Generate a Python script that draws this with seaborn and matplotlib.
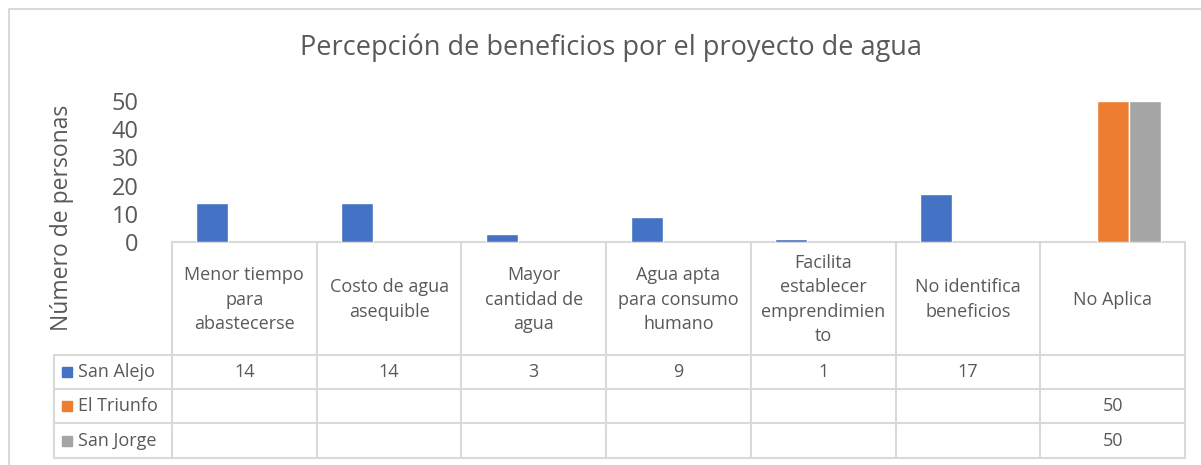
import numpy as np
import pandas as pd
import matplotlib
matplotlib.use("Agg")
import matplotlib.pyplot as plt
import seaborn as sns

# data
categorias = ["Menor tiempo\npara\nabastecerse", "Costo de agua\nasequible",
              "Mayor\ncantidad de\nagua", "Agua apta\npara consumo\nhumano",
              "Facilita\nestablecer\nemprendimien\nto", "No identifica\nbeneficios",
              "No Aplica"]
series = ["San Alejo", "El Triunfo", "San Jorge"]
san_alejo = [14, 14, 3, 9, 1, 17, np.nan]
el_triunfo = [np.nan, np.nan, np.nan, np.nan, np.nan, np.nan, 50]
san_jorge = [np.nan, np.nan, np.nan, np.nan, np.nan, np.nan, 50]
colores = ["#4472C4", "#ED7D31", "#A5A5A5"]

valores = [san_alejo, el_triunfo, san_jorge]
df = pd.DataFrame({
    "cat": categorias * 3,
    "serie": [s for s in series for _ in categorias],
    "n": san_alejo + el_triunfo + san_jorge,
})

sns.set_style("white")
plt.rcParams["font.family"] = ["Open Sans", "DejaVu Sans"]
gris_txt = "#595959"
gris_lin = "#D9D9D9"

W, H = 1201, 465
fig = plt.figure(figsize=(W / 100, H / 100), dpi=100)

# layout in pixels
x0, x1 = 172, 1185
y_top, y_base = 101, 242
ax = fig.add_axes([x0 / W, (H - y_base) / H, (x1 - x0) / W, (y_base - y_top) / H])
sns.barplot(data=df.dropna(), x="cat", y="n", hue="serie", order=categorias,
            hue_order=series, palette=colores, width=0.663, gap=0,
            saturation=1, legend=False, ax=ax)
ax.set_xlim(-0.5, len(categorias) - 0.5)
ax.set_ylim(0, 50)
ax.set_yticks(range(0, 51, 10))
ax.tick_params(axis="y", labelsize=17, labelcolor=gris_txt, length=0, pad=24)
ax.set_xticks([])
ax.set_xlabel("")
ax.set_ylabel("")
for s in ax.spines.values():
    s.set_visible(False)
ax.patch.set_alpha(0)

# overlay for table, border and titles
ov = fig.add_axes([0, 0, 1, 1], zorder=-1)
ov.set_xlim(0, W)
ov.set_ylim(H, 0)
ov.axis("off")

# chart border
ov.plot([9, 9, W + 5], [H + 5, 9, 9], color=gris_lin, lw=1.5)

ov.text(611, 48, "Percepción de beneficios por el proyecto de agua",
        ha="center", va="center", fontsize=19.5, color=gris_txt)
ov.text(62, 218, "Número de personas", rotation=90, ha="center", va="center",
        fontsize=16.5, color=gris_txt)

# data table
colw = (x1 - x0) / len(categorias)
y_rows = [242, 355, 389, 423, 458]
xl = 54
lw = 1.5
ov.plot([x0, x1], [y_rows[0]] * 2, color=gris_lin, lw=lw)
for y in y_rows[1:]:
    ov.plot([xl, x1], [y, y], color=gris_lin, lw=lw)
for i in range(len(categorias) + 1):
    ov.plot([x0 + i * colw] * 2, [y_rows[0], y_rows[-1]], color=gris_lin, lw=lw)
ov.plot([xl, xl], [y_rows[1], y_rows[-1]], color=gris_lin, lw=lw)

for i, c in enumerate(categorias):
    ov.text(x0 + (i + 0.5) * colw, (y_rows[0] + y_rows[1]) / 2 + 1, c,
            ha="center", va="center", fontsize=13, color=gris_txt,
            linespacing=1.45)

for r, (nombre, vals, col) in enumerate(zip(series, valores, colores)):
    yc = (y_rows[r + 1] + y_rows[r + 2]) / 2
    ov.add_patch(plt.Rectangle((62, yc - 5), 10, 10, color=col))
    ov.text(78, yc, nombre, ha="left", va="center", fontsize=13, color=gris_txt)
    for i, v in enumerate(vals):
        if not np.isnan(v):
            ov.text(x0 + (i + 0.5) * colw, yc, f"{v:g}", ha="center",
                    va="center", fontsize=13, color=gris_txt)

fig.savefig("out.png", dpi=100)
